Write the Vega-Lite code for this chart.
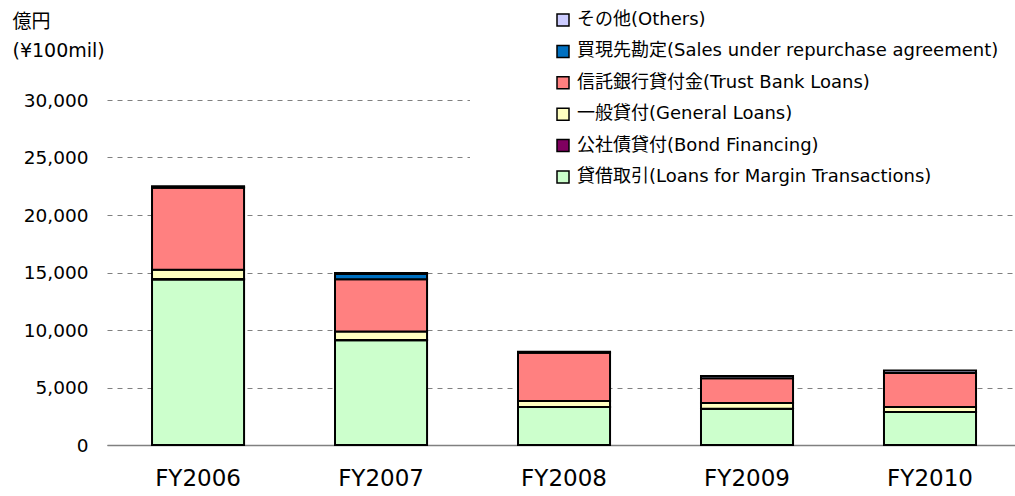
{
  "$schema": "https://vega.github.io/schema/vega-lite/v6.json",
  "width": 908,
  "height": 345,
  "autosize": "none",
  "padding": {"left": 107, "top": 100, "right": 0, "bottom": 51},
  "background": "white",
  "config": {"view": {"stroke": null}, "font": "DejaVu Sans, Noto Sans CJK JP"},
  "data": {
    "values": [
      {"year": "FY2006", "cat": "貸借取引(Loans for Margin Transactions)", "k": 1, "v": 14400},
      {"year": "FY2006", "cat": "公社債貸付(Bond Financing)", "k": 2, "v": 30},
      {"year": "FY2006", "cat": "一般貸付(General Loans)", "k": 3, "v": 820},
      {"year": "FY2006", "cat": "信託銀行貸付金(Trust Bank Loans)", "k": 4, "v": 7120},
      {"year": "FY2006", "cat": "買現先勘定(Sales under repurchase agreement)", "k": 5, "v": 60},
      {"year": "FY2006", "cat": "その他(Others)", "k": 6, "v": 80},
      {"year": "FY2007", "cat": "貸借取引(Loans for Margin Transactions)", "k": 1, "v": 9100},
      {"year": "FY2007", "cat": "公社債貸付(Bond Financing)", "k": 2, "v": 20},
      {"year": "FY2007", "cat": "一般貸付(General Loans)", "k": 3, "v": 750},
      {"year": "FY2007", "cat": "信託銀行貸付金(Trust Bank Loans)", "k": 4, "v": 4550},
      {"year": "FY2007", "cat": "買現先勘定(Sales under repurchase agreement)", "k": 5, "v": 450},
      {"year": "FY2007", "cat": "その他(Others)", "k": 6, "v": 80},
      {"year": "FY2008", "cat": "貸借取引(Loans for Margin Transactions)", "k": 1, "v": 3300},
      {"year": "FY2008", "cat": "公社債貸付(Bond Financing)", "k": 2, "v": 10},
      {"year": "FY2008", "cat": "一般貸付(General Loans)", "k": 3, "v": 520},
      {"year": "FY2008", "cat": "信託銀行貸付金(Trust Bank Loans)", "k": 4, "v": 4200},
      {"year": "FY2008", "cat": "その他(Others)", "k": 6, "v": 80},
      {"year": "FY2009", "cat": "貸借取引(Loans for Margin Transactions)", "k": 1, "v": 3150},
      {"year": "FY2009", "cat": "公社債貸付(Bond Financing)", "k": 2, "v": 10},
      {"year": "FY2009", "cat": "一般貸付(General Loans)", "k": 3, "v": 500},
      {"year": "FY2009", "cat": "信託銀行貸付金(Trust Bank Loans)", "k": 4, "v": 2150},
      {"year": "FY2009", "cat": "その他(Others)", "k": 6, "v": 200},
      {"year": "FY2010", "cat": "貸借取引(Loans for Margin Transactions)", "k": 1, "v": 2870},
      {"year": "FY2010", "cat": "公社債貸付(Bond Financing)", "k": 2, "v": 10},
      {"year": "FY2010", "cat": "一般貸付(General Loans)", "k": 3, "v": 430},
      {"year": "FY2010", "cat": "信託銀行貸付金(Trust Bank Loans)", "k": 4, "v": 2950},
      {"year": "FY2010", "cat": "その他(Others)", "k": 6, "v": 220}
    ]
  },
  "mark": {"type": "bar", "stroke": "black", "strokeWidth": 2},
  "encoding": {
    "x": {
      "field": "year", "type": "nominal", "sort": null,
      "scale": {"paddingInner": 0.497, "paddingOuter": 0.2295, "align": 0.536},
      "axis": {"title": null, "labelAngle": 0, "labelFont": "DejaVu Sans", "labelFontSize": 23, "labelColor": "black", "labelPadding": 22, "ticks": false, "domainColor": "#808080", "domainWidth": 1.5, "grid": false}
    },
    "y": {
      "field": "v", "type": "quantitative", "stack": "zero",
      "scale": {"domain": [0, 30000], "nice": false},
      "axis": {
        "values": [0, 5000, 10000, 15000, 20000, 25000, 30000],
        "format": ",d", "labelFont": "DejaVu Sans", "labelFontSize": 18.5, "labelColor": "black", "labelPadding": 19,
        "ticks": false, "domain": false, "gridDash": [5, 5], "gridColor": "#808080", "gridWidth": 1,
        "title": ["億円", "(¥100mil)"], "titleAngle": 0, "titleAlign": "left", "titleBaseline": "top",
        "titleX": -95, "titleY": -88, "titleFont": "DejaVu Sans, Noto Sans CJK JP", "titleFontSize": 19,
        "titleFontWeight": "normal", "titleLineHeight": 29, "titleColor": "black"
      }
    },
    "color": {
      "field": "cat", "type": "nominal",
      "scale": {
        "domain": ["その他(Others)", "買現先勘定(Sales under repurchase agreement)", "信託銀行貸付金(Trust Bank Loans)", "一般貸付(General Loans)", "公社債貸付(Bond Financing)", "貸借取引(Loans for Margin Transactions)"],
        "range": ["#CCCCFF", "#0070C0", "#FF8080", "#FFFFC0", "#800060", "#CCFFCC"]
      },
      "legend": {
        "orient": "none", "legendX": 363, "legendY": -109,
        "title": "\u3000", "titleOrient": "left", "titlePadding": 64, "titleFontSize": 17, "titleFont": "Noto Sans CJK JP",
        "fillColor": "white", "padding": 20,
        "symbolType": "square", "symbolSize": 144, "symbolStrokeColor": "black", "symbolStrokeWidth": 1.5,
        "labelFont": "DejaVu Sans, Noto Sans CJK JP", "labelFontSize": 18, "labelColor": "black", "labelLimit": 600,
        "labelOffset": 5, "rowPadding": 13.4
      }
    },
    "order": {"field": "k", "type": "quantitative", "sort": "ascending"}
  }
}
